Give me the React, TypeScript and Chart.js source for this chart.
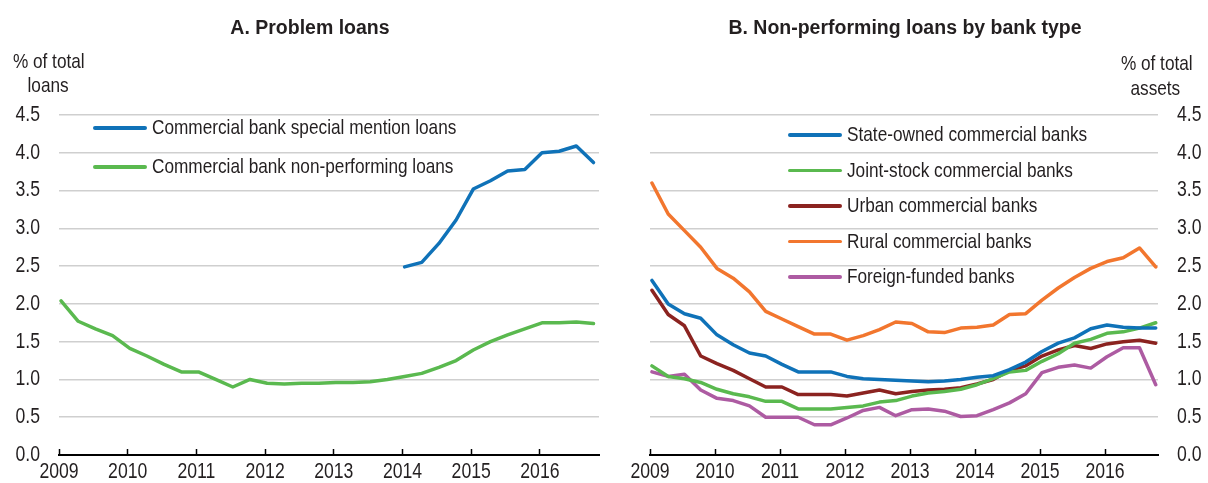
import React, { useEffect, useRef } from "react";
import { Chart, registerables } from "chart.js";

Chart.register(...registerables);

const FONT = '"Liberation Sans", Arial, Helvetica, sans-serif';
const TEXT = "#231f20";
const NARROW = 0.82;

const quarters = [
  "2009Q1","2009Q2","2009Q3","2009Q4","2010Q1","2010Q2","2010Q3","2010Q4",
  "2011Q1","2011Q2","2011Q3","2011Q4","2012Q1","2012Q2","2012Q3","2012Q4",
  "2013Q1","2013Q2","2013Q3","2013Q4","2014Q1","2014Q2","2014Q3","2014Q4",
  "2015Q1","2015Q2","2015Q3","2015Q4","2016Q1","2016Q2","2016Q3","2016Q4",
];
const quarterX = quarters.map((q) => Number(q.slice(0, 4)) + (Number(q.slice(5)) - 1) / 4 + 0.03);

// Panel A
const specialMention = [
  null,null,null,null,null,null,null,null,null,null,null,null,null,null,null,null,
  null,null,null,null,2.49,2.55,2.80,3.11,3.52,3.63,3.76,3.78,4.00,4.02,4.09,3.87,
];
const commercialNpl = [
  2.04,1.77,1.67,1.58,1.41,1.31,1.20,1.10,1.10,1.00,0.90,1.00,0.95,0.94,0.95,0.95,
  0.96,0.96,0.97,1.00,1.04,1.08,1.16,1.25,1.39,1.50,1.59,1.67,1.75,1.75,1.76,1.74,
];

// Panel B
const stateOwned = [
  2.31,2.00,1.87,1.81,1.59,1.46,1.35,1.31,1.20,1.10,1.10,1.10,1.04,1.01,1.00,0.99,
  0.98,0.97,0.98,1.00,1.03,1.05,1.13,1.23,1.37,1.48,1.55,1.67,1.72,1.69,1.68,1.68,
];
const jointStock = [
  1.18,1.04,1.01,0.96,0.87,0.81,0.77,0.71,0.71,0.61,0.61,0.61,0.63,0.65,0.70,0.72,
  0.78,0.82,0.84,0.87,0.93,1.01,1.10,1.12,1.24,1.34,1.48,1.53,1.61,1.63,1.68,1.75,
];
const urban = [
  2.18,1.86,1.71,1.31,1.21,1.12,1.01,0.90,0.90,0.80,0.80,0.80,0.78,0.82,0.86,0.81,
  0.84,0.86,0.87,0.89,0.94,1.00,1.12,1.18,1.31,1.39,1.45,1.41,1.47,1.50,1.52,1.48,
];
const rural = [
  3.60,3.19,2.97,2.75,2.47,2.34,2.16,1.90,1.80,1.70,1.60,1.60,1.52,1.58,1.66,1.76,
  1.74,1.63,1.62,1.68,1.69,1.72,1.86,1.87,2.05,2.21,2.35,2.47,2.56,2.61,2.74,2.49,
];
const foreign = [
  1.10,1.04,1.07,0.86,0.75,0.72,0.65,0.50,0.50,0.50,0.40,0.40,0.49,0.59,0.63,0.52,
  0.60,0.61,0.58,0.51,0.52,0.60,0.69,0.81,1.09,1.16,1.19,1.15,1.30,1.42,1.42,0.93,
];

const yTicks = ["0.0","0.5","1.0","1.5","2.0","2.5","3.0","3.5","4.0","4.5"];
const yearTicks = ["2009","2010","2011","2012","2013","2014","2015","2016"];

const BLUE = "#0f72b8";
const GREEN = "#5ab94f";
const DARKRED = "#8b2320";
const ORANGE = "#f2762e";
const PURPLE = "#ad5ba2";

const legendA = [
  { label: "Commercial bank special mention loans", color: BLUE },
  { label: "Commercial bank non-performing loans", color: GREEN },
];
const legendB = [
  { label: "State-owned commercial banks", color: BLUE },
  { label: "Joint-stock commercial banks", color: GREEN },
  { label: "Urban commercial banks", color: DARKRED },
  { label: "Rural commercial banks", color: ORANGE },
  { label: "Foreign-funded banks", color: PURPLE },
];

function toPoints(vals: (number | null)[]) {
  return vals.map((v, i) => ({ x: quarterX[i], y: v }));
}

// Draws tick labels in a condensed (horizontally scaled) face, positioned by the chart's own scales.
function narrowTickPlugin(side: "left" | "right") {
  return {
    id: "narrowTicks",
    afterDraw(chart: any) {
      const ctx = chart.ctx;
      const xs = chart.scales.x;
      const ys = chart.scales.y;
      const area = chart.chartArea;
      ctx.save();
      ctx.fillStyle = TEXT;
      ctx.font = `21.5px ${FONT}`;
      ctx.textBaseline = "middle";
      const draw = (label: string, x: number, y: number, align: CanvasTextAlign) => {
        ctx.save();
        ctx.translate(x, y);
        ctx.scale(NARROW, 1);
        ctx.textAlign = align;
        ctx.fillText(label, 0, 0);
        ctx.restore();
      };
      yearTicks.forEach((t) => draw(t, xs.getPixelForValue(Number(t)), area.bottom + 17.5, "center"));
      yTicks.forEach((t) => {
        const py = ys.getPixelForValue(Number(t));
        if (side === "left") draw(t, area.left - 19, py, "right");
        else draw(t, area.right + 19, py, "left");
      });
      ctx.restore();
    },
  };
}

function makeConfig(
  datasets: { data: (number | null)[]; color: string }[],
  side: "left" | "right",
  xMax: number,
  padLeft: number,
  padRight: number,
  yWidth: number
): any {
  return {
    type: "line",
    data: {
      datasets: datasets.map((d) => ({
        data: toPoints(d.data),
        borderColor: d.color,
        backgroundColor: d.color,
        borderWidth: 3.5,
        pointRadius: 0,
        tension: 0,
        spanGaps: false,
        borderCapStyle: "round",
        borderJoinStyle: "round",
      })),
    },
    plugins: [narrowTickPlugin(side)],
    options: {
      animation: false,
      responsive: false,
      devicePixelRatio: 1,
      layout: { padding: { top: 115, left: padLeft, right: padRight, bottom: 0 } },
      plugins: { legend: { display: false }, tooltip: { enabled: false }, title: { display: false } },
      scales: {
        x: {
          type: "linear",
          position: "bottom",
          min: 2009,
          max: xMax,
          afterFit: (s: any) => { s.height = 28; },
          afterBuildTicks: (s: any) => {
            s.ticks = yearTicks.map((t) => ({ value: Number(t) }));
          },
          grid: {
            display: true,
            drawOnChartArea: false,
            drawTicks: true,
            tickLength: -6,
            tickColor: "#000",
            tickWidth: 1.5,
          },
          border: { display: true, color: "#000", width: 2 },
          ticks: {
            autoSkip: false,
            maxRotation: 0,
            color: "rgba(0,0,0,0)",
            font: { family: FONT, size: 18 },
            callback: () => "",
          },
        },
        y: {
          type: "linear",
          position: side,
          min: 0,
          max: 4.5,
          afterFit: (s: any) => { s.width = yWidth; },
          afterBuildTicks: (s: any) => {
            s.ticks = yTicks.map((t) => ({ value: Number(t) }));
          },
          grid: { color: "#cfcfcf", lineWidth: 1.5, drawTicks: false },
          border: { display: false },
          ticks: {
            color: "rgba(0,0,0,0)",
            font: { family: FONT, size: 18 },
            callback: () => "",
          },
        },
      },
    },
  };
}

function NarrowText({ text, size, origin }: { text: string; size: number; origin: string }) {
  return (
    <span style={{ display: "inline-block", transform: `scaleX(${NARROW})`, transformOrigin: origin, fontFamily: FONT, fontSize: size, color: TEXT, whiteSpace: "nowrap" }}>
      {text}
    </span>
  );
}

function Legend({ items, left, top, gap }: { items: { label: string; color: string }[]; left: number; top: number; gap: number }) {
  return (
    <>
      {items.map((it, i) => (
        <div key={it.label} style={{ position: "absolute", left, top: top + i * gap - 14, height: 28, display: "flex", alignItems: "center", whiteSpace: "nowrap" }}>
          <div style={{ width: 54, height: 3.5, background: it.color, borderRadius: 2 }} />
          <div style={{ marginLeft: 5, lineHeight: "28px" }}>
            <NarrowText text={it.label} size={21} origin="left center" />
          </div>
        </div>
      ))}
    </>
  );
}

function Centered({ text, cx, cy, size, bold }: { text: string; cx: number; cy: number; size: number; bold?: boolean }) {
  return (
    <div style={{ position: "absolute", left: cx - 250, width: 500, top: cy - 15, height: 30, lineHeight: "30px", textAlign: "center", whiteSpace: "nowrap" }}>
      {bold ? (
        <span style={{ fontFamily: FONT, fontSize: size, fontWeight: "bold", color: TEXT }}>{text}</span>
      ) : (
        <NarrowText text={text} size={size} origin="center center" />
      )}
    </div>
  );
}

export default function App() {
  const leftRef = useRef<HTMLCanvasElement>(null);
  const rightRef = useRef<HTMLCanvasElement>(null);

  useEffect(() => {
    const a = new Chart(
      leftRef.current!,
      makeConfig(
        [
          { data: specialMention, color: BLUE },
          { data: commercialNpl, color: GREEN },
        ],
        "left",
        2016.86,
        0,
        5,
        59
      )
    );
    const b = new Chart(
      rightRef.current!,
      makeConfig(
        [
          { data: stateOwned, color: BLUE },
          { data: jointStock, color: GREEN },
          { data: urban, color: DARKRED },
          { data: rural, color: ORANGE },
          { data: foreign, color: PURPLE },
        ],
        "right",
        2016.815,
        46,
        0,
        50
      )
    );
    return () => {
      a.destroy();
      b.destroy();
    };
  }, []);

  return (
    <div style={{ position: "absolute", left: 0, top: 0, width: 1208, height: 483, background: "#fff", overflow: "hidden" }}>
      <canvas ref={leftRef} width={604} height={483} style={{ position: "absolute", left: 0, top: 0 }} />
      <canvas ref={rightRef} width={604} height={483} style={{ position: "absolute", left: 604, top: 0 }} />
      <Centered text="A. Problem loans" cx={310} cy={27} size={19.5} bold />
      <Centered text="B. Non-performing loans by bank type" cx={905} cy={27} size={19.5} bold />
      <Centered text="% of total" cx={48.5} cy={61} size={21} />
      <Centered text="loans" cx={48.5} cy={85} size={21} />
      <Centered text="% of total" cx={1157} cy={63} size={21} />
      <Centered text="assets" cx={1155} cy={88} size={21} />
      <Legend items={legendA} left={93} top={128} gap={39} />
      <Legend items={legendB} left={788} top={135} gap={35.5} />
    </div>
  );
}
